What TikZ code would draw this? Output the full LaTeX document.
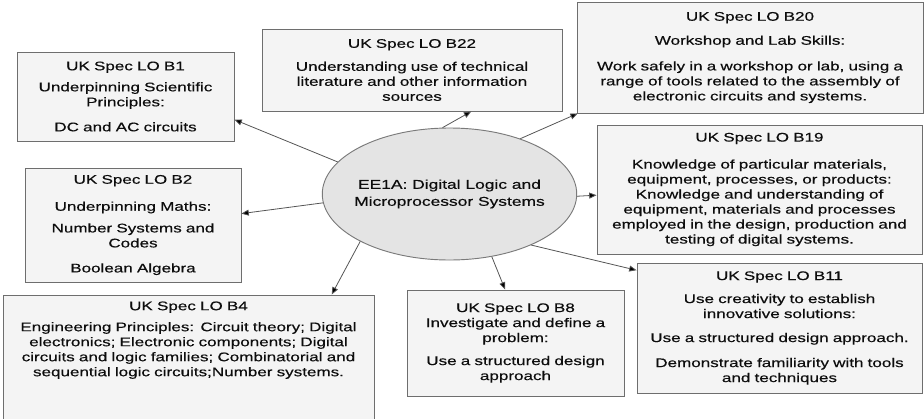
\documentclass[tikz,border=0pt]{standalone}
\usepackage{fontspec}
\setmainfont[FakeStretch=1.36,FakeBold=0.35]{Liberation Sans}
\usepackage{tikz}
\usetikzlibrary{positioning,arrows.meta,shapes.geometric}

\definecolor{boxfill}{HTML}{F4F4F4}
\definecolor{boxline}{HTML}{6E6E6E}
\definecolor{ovalfill}{HTML}{E4E4E4}
\definecolor{ovalline}{HTML}{7A7A7A}
\definecolor{linkline}{HTML}{555555}

\begin{document}
\begin{tikzpicture}[x=0.75pt,y=-0.75pt,
    lotext/.style={align=center, inner sep=2pt, text=black!95,
        font=\fontsize{9.4}{11.25}\selectfont},
    lobox/.style={lotext, draw=boxline, fill=boxfill, line width=0.7pt},
    link/.style={draw=linkline, line width=0.6pt,
        -{Triangle[length=5.5pt,width=4.5pt,fill=black]}}]

    \useasboundingbox (0,0) rectangle (924,418);
    \clip (0,0) rectangle (924,418);

    % centre module
    \node[ellipse, draw=ovalline, fill=ovalfill, line width=0.7pt, inner sep=-4pt,
          minimum width=187.5pt, minimum height=99pt, align=center, text=black!95,
          font=\fontsize{9.6}{12.75}\selectfont] (ee1a) at (449.5,194)
        {EE1A: Digital Logic and\\ Microprocessor Systems};

    % left column
    \node[lobox, text width=158.75pt, minimum height=66.75pt] (b1) at (125.5,96.5)
        {UK Spec LO B1\\[4.5pt] Underpinning Scientific\\ Principles:\\[7.5pt]
         DC and AC circuits};
    \node[lobox, text width=158pt, minimum height=85.5pt] (b2) at (133,225)
        {UK Spec LO B2\\[9pt] Underpinning Maths:\\[5pt] Number Systems and\\ Codes\\[7.5pt]
         Boolean Algebra};

    % B4 runs off the bottom edge, its text sits at the top
    \node[lobox, minimum width=278.25pt, minimum height=108.75pt] (b4) at (188.5,367.5) {};
    \node[lotext, text width=272pt, below=3pt of b4.north] (b4text)
        {UK Spec LO B4\\[4.5pt] Engineering Principles: Circuit theory; Digital\\
         electronics; Electronic components; Digital\\
         circuits and logic families; Combinatorial and\\
         sequential logic circuits;Number systems.};

    % top row
    \node[lobox, text width=221pt, minimum height=61.5pt] (b22) at (412,70)
        {UK Spec LO B22\\[6pt] Understanding use of technical\\
         literature and other information\\ sources};
    \node[lobox, text width=255.5pt, minimum height=83.25pt] (b20) at (750,57.5)
        {UK Spec LO B20\\[6.75pt] Workshop and Lab Skills:\\[8pt]
         Work safely in a workshop or lab, using a\\
         range of tools related to the assembly of\\
         electronic circuits and systems.};

    % right side
    \node[lobox, text width=239.75pt, minimum height=96.75pt] (b19) at (759.5,189.5)
        {UK Spec LO B19\\[9pt] Knowledge of particular materials,\\
         equipment, processes, or products:\\
         Knowledge and understanding of\\
         equipment, materials and processes\\
         employed in the design, production and\\
         testing of digital systems.};
    \node[lobox, text width=209.75pt, minimum height=97.5pt] (b11) at (779.5,328)
        {UK Spec LO B11\\[6pt] Use creativity to establish\\ innovative solutions:\\[6.75pt]
         Use a structured design approach.\\[7.5pt]
         Demonstrate familiarity with tools\\ and techniques};
    \node[lobox, text width=158.75pt, minimum height=79.5pt] (b8) at (515.5,343)
        {UK Spec LO B8\\ Investigate and define a\\ problem:\\[6pt]
         Use a structured design\\ approach};

    % links out of the module
    \foreach \from/\to in {164/b1.-12, 184/b2.6, 96/b22.-35, 38/b20.-162,
                           -1/b19.182, -32/b11.158, -56/b8.101, -152/b4.27}
        \draw[link] (ee1a.\from) -- (\to);

\end{tikzpicture}
\end{document}
